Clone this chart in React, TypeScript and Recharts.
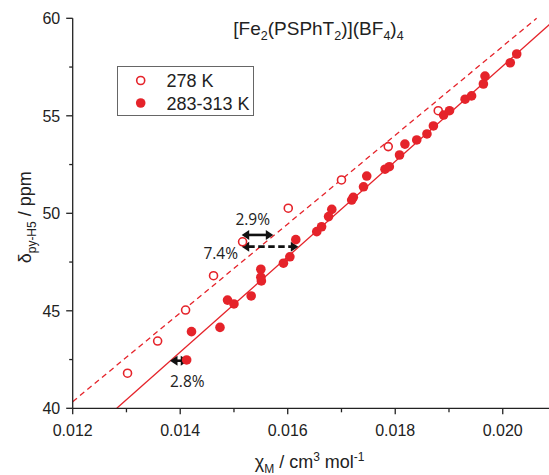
import React from 'react';
import { ScatterChart, Scatter, XAxis, YAxis, ReferenceLine, Legend } from 'recharts';

const xTicks = [0.012, 0.013, 0.014, 0.015, 0.016, 0.017, 0.018, 0.019, 0.02, 0.021];
const yTicks = [40, 42.5, 45, 47.5, 50, 52.5, 55, 57.5, 60];

const data278 = [
  { x: 0.01302, y: 41.8 },
  { x: 0.01358, y: 43.45 },
  { x: 0.0141, y: 45.04 },
  { x: 0.01462, y: 46.8 },
  { x: 0.01516, y: 48.54 },
  { x: 0.01601, y: 50.26 },
  { x: 0.017, y: 51.71 },
  { x: 0.01787, y: 53.42 },
  { x: 0.0188, y: 55.26 },
];

const data283 = [
  { x: 0.01412, y: 42.48 },
  { x: 0.01421, y: 43.93 },
  { x: 0.01474, y: 44.15 },
  { x: 0.01488, y: 45.55 },
  { x: 0.015, y: 45.35 },
  { x: 0.01532, y: 45.76 },
  { x: 0.0155, y: 47.13 },
  { x: 0.0155, y: 46.72 },
  { x: 0.01551, y: 46.53 },
  { x: 0.01592, y: 47.44 },
  { x: 0.01604, y: 47.77 },
  { x: 0.01615, y: 48.65 },
  { x: 0.01654, y: 49.06 },
  { x: 0.01663, y: 49.31 },
  { x: 0.01676, y: 49.83 },
  { x: 0.01682, y: 50.2 },
  { x: 0.01719, y: 50.68 },
  { x: 0.01722, y: 50.82 },
  { x: 0.01741, y: 51.36 },
  { x: 0.01747, y: 51.91 },
  { x: 0.01781, y: 52.26 },
  { x: 0.01789, y: 52.39 },
  { x: 0.01808, y: 52.99 },
  { x: 0.01818, y: 53.55 },
  { x: 0.0184, y: 53.76 },
  { x: 0.01859, y: 54.07 },
  { x: 0.01871, y: 54.48 },
  { x: 0.0189, y: 55.04 },
  { x: 0.01901, y: 55.26 },
  { x: 0.0193, y: 55.85 },
  { x: 0.01942, y: 56.02 },
  { x: 0.01964, y: 56.63 },
  { x: 0.01967, y: 57.04 },
  { x: 0.02014, y: 57.72 },
  { x: 0.02026, y: 58.17 },
];

const fit278 = [
  { x: 0.012, y: 40.34 },
  { x: 0.02063, y: 60 },
];
const fit283 = [
  { x: 0.01282, y: 40 },
  { x: 0.021, y: 60 },
];

const arrowLabels = ['2.9%', '7.4%', '2.8%'];
const arrowFrom = [0.015144, 0.015144, 0.01381];
const arrowTo = [0.015732, 0.016197, 0.01415];
const arrowY = [48.89, 48.29, 42.44];
const arrowDashed = [false, true, false];

const RED = '#e5232a';
const INK = '#222';
const FONT = '"Liberation Sans", Arial, sans-serif';

// label placement relative to arrow (style, not data)
const labelPlacement: Record<string, { ref: 'x1' | 'x2'; dx: number; dy: number }> = {
  '2.9%': { ref: 'x1', dx: 11, dy: -10 },
  '7.4%': { ref: 'x1', dx: -21, dy: 12.5 },
  '2.8%': { ref: 'x2', dx: -1, dy: 26 },
};

const XTick = (props: any) => {
  const { x, y, payload } = props;
  const v = payload.value;
  const major = Math.round(v * 1000) % 2 === 0;
  return (
    <g>
      <line x1={x} y1={y} x2={x} y2={y + (major ? 6 : 4)} stroke={INK} strokeWidth={1.3} />
      {major && (
        <text x={x} y={y + 27.4} textAnchor="middle" fontFamily={FONT} fontSize={16} fill={INK}>
          {v.toFixed(3)}
        </text>
      )}
    </g>
  );
};

const YTick = (props: any) => {
  const { x, y, payload } = props;
  const v = payload.value;
  const major = v % 5 === 0;
  return (
    <g>
      <line x1={x} y1={y} x2={x - (major ? 6.5 : 3.5)} y2={y} stroke={INK} strokeWidth={1.3} />
      {major && (
        <text x={x - 12.5} y={y + 6} textAnchor="end" fontFamily={FONT} fontSize={16} fill={INK}>
          {v}
        </text>
      )}
    </g>
  );
};

const XTitle = (props: any) => {
  const vb = props.viewBox || { x: 0, y: 0, width: 0 };
  const cx = vb.x + vb.width / 2 - 5;
  return (
    <text x={cx} y={vb.y + 60} textAnchor="middle" fontFamily={FONT} fontSize={18} fill={INK}>
      χ
      <tspan fontSize={12} dy={5}>M</tspan>
      <tspan dy={-5}> / cm</tspan>
      <tspan fontSize={12} dy={-7}>3</tspan>
      <tspan dy={7}> mol</tspan>
      <tspan fontSize={12} dy={-7}>-1</tspan>
    </text>
  );
};

const YTitle = (props: any) => {
  const vb = props.viewBox || { x: 0, y: 0, height: 0 };
  const tx = vb.x + 18.5;
  const ty = vb.y + vb.height / 2 + 4;
  return (
    <text
      x={tx}
      y={ty}
      textAnchor="middle"
      fontFamily={FONT}
      fontSize={18}
      fill={INK}
      transform={`rotate(-90 ${tx} ${ty})`}
    >
      δ
      <tspan fontSize={12} dy={5}>py-H5</tspan>
      <tspan dy={-5}> / ppm</tspan>
    </text>
  );
};

const makeArrowShape = (label: string, dashed: boolean) => (p: any) => {
  const { x1, y1, x2, y2 } = p;
  if (x1 == null) return <g />;
  const h = 7.5;
  const w = 5;
  const pl = labelPlacement[label];
  const lx = (pl.ref === 'x1' ? x1 : x2) + pl.dx;
  const ly = y1 + pl.dy;
  return (
    <g>
      <line
        x1={x1 + h - 1}
        y1={y1}
        x2={x2 - h + 1}
        y2={y2}
        stroke="#111"
        strokeWidth={2.6}
        strokeDasharray={dashed ? '6.5 3.5' : undefined}
      />
      <polygon points={`${x1},${y1} ${x1 + h},${y1 - w} ${x1 + h},${y1 + w}`} fill="#111" />
      <polygon points={`${x2},${y2} ${x2 - h},${y2 - w} ${x2 - h},${y2 + w}`} fill="#111" />
      <text x={lx} y={ly} textAnchor="middle" fontFamily='"Open Sans", sans-serif' fontSize={15.5} fill={INK}>
        {label}
      </text>
    </g>
  );
};

const OpenDot = (p: any) => (
  <circle cx={p.cx} cy={p.cy} r={4} fill="#fff" stroke={RED} strokeWidth={1.6} />
);
const FilledDot = (p: any) => <circle cx={p.cx} cy={p.cy} r={4.8} fill={RED} />;

const LegendBox = () => (
  <svg width={137} height={50} style={{ display: 'block' }}>
    <rect x={0.5} y={0.5} width={136} height={49} fill="#fff" stroke="#666" strokeWidth={1} />
    <circle cx={23.7} cy={14.5} r={4} fill="#fff" stroke={RED} strokeWidth={1.6} />
    <text x={49.4} y={20.5} fontFamily={FONT} fontSize={18} fill={INK}>278 K</text>
    <circle cx={23.7} cy={37} r={4.8} fill={RED} />
    <text x={49.4} y={43.5} fontFamily={FONT} fontSize={18} fill={INK}>283-313 K</text>
  </svg>
);

export default function App() {
  return (
    <div
      style={{
        position: 'absolute',
        left: 0,
        top: 0,
        width: 549,
        height: 475,
        overflow: 'hidden',
        background: '#fff',
      }}
    >
      <ScatterChart
        width={600}
        height={475}
        margin={{ top: 18.3, right: 43.5, bottom: 6.7, left: 12.7 }}
      >
        <XAxis
          type="number"
          dataKey="x"
          domain={[0.012, 0.021]}
          ticks={xTicks}
          allowDataOverflow
          height={60}
          tickSize={0}
          tickMargin={0}
          tickLine={false}
          tick={<XTick />}
          axisLine={{ stroke: INK, strokeWidth: 1.3 }}
          interval={0}
          label={{ content: XTitle }}
        />
        <YAxis
          type="number"
          dataKey="y"
          domain={[40, 60]}
          ticks={yTicks}
          allowDataOverflow
          width={60}
          tickSize={0}
          tickMargin={0}
          tickLine={false}
          tick={<YTick />}
          axisLine={{ stroke: INK, strokeWidth: 1.3 }}
          interval={0}
          label={{ content: YTitle }}
        />
        <ReferenceLine
          segment={fit278}
          stroke={RED}
          strokeWidth={1.3}
          strokeDasharray="5.5 4"
          ifOverflow="visible"
        />
        <ReferenceLine segment={fit283} stroke={RED} strokeWidth={1.3} ifOverflow="visible" />
        <Scatter name="278 K" data={data278} shape={OpenDot} isAnimationActive={false} />
        <Scatter name="283-313 K" data={data283} shape={FilledDot} isAnimationActive={false} />
        {arrowLabels.map((lab, i) => (
          <ReferenceLine
            key={lab}
            segment={[
              { x: arrowFrom[i], y: arrowY[i] },
              { x: arrowTo[i], y: arrowY[i] },
            ]}
            ifOverflow="visible"
            shape={makeArrowShape(lab, arrowDashed[i])}
          />
        ))}
        <Legend
          layout="horizontal"
          verticalAlign="middle"
          align="center"
          content={() => <LegendBox />}
          wrapperStyle={{ position: 'absolute', left: 117, top: 65.5, width: 137, height: 50 }}
        />
      </ScatterChart>
      <svg
        width={549}
        height={60}
        style={{ position: 'absolute', left: 0, top: 0, pointerEvents: 'none' }}
      >
        <text x={233.3} y={35} fontFamily={FONT} fontSize={19} fill={INK}>
          [Fe
          <tspan fontSize={12.5} dy={5}>2</tspan>
          <tspan dy={-5}>(PSPhT</tspan>
          <tspan fontSize={12.5} dy={5}>2</tspan>
          <tspan dy={-5}>)](BF</tspan>
          <tspan fontSize={12.5} dy={5}>4</tspan>
          <tspan dy={-5}>)</tspan>
          <tspan fontSize={12.5} dy={5}>4</tspan>
        </text>
      </svg>
    </div>
  );
}
